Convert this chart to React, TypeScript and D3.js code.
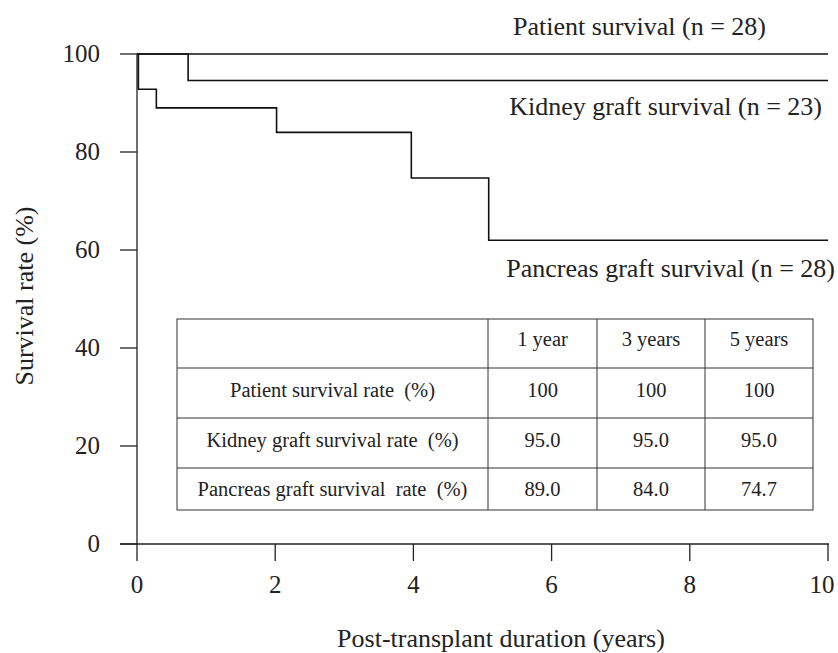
import React from "react";
import * as d3 from "d3";

const xTicks = [0, 2, 4, 6, 8, 10];
const yTicks = [0, 20, 40, 60, 80, 100];

const patientTimes = [0, 10];
const patientValues = [100, 100];
const kidneyTimes = [0, 0.74, 10];
const kidneyValues = [100, 94.6, 94.6];
const pancreasTimes = [0, 0.02, 0.28, 2.02, 3.97, 5.09, 10];
const pancreasValues = [100, 92.8, 89.0, 84.0, 74.7, 62.0, 62.0];

const seriesLabels = [
  "Patient survival (n = 28)",
  "Kidney graft survival (n = 23)",
  "Pancreas graft survival (n = 28)",
];

const tableHeader = ["", "1 year", "3 years", "5 years"];
const tableRowLabels = [
  "Patient survival rate  (%)",
  "Kidney graft survival rate  (%)",
  "Pancreas graft survival  rate  (%)",
];
const tableValues = [
  ["100", "100", "100"],
  ["95.0", "95.0", "95.0"],
  ["89.0", "84.0", "74.7"],
];

const W = 838;
const H = 653;
const FONT = '"Liberation Serif", "Times New Roman", Times, serif';

const ts = (size: number): React.CSSProperties => ({
  fontFamily: FONT,
  fontSize: size + "px",
  whiteSpace: "pre",
});

export default function App() {
  const x = d3.scaleLinear().domain([0, 10]).range([137, 828]);
  const y = d3.scaleLinear().domain([0, 100]).range([544, 54]);
  const line = d3
    .line<[number, number]>()
    .x((d) => x(d[0]))
    .y((d) => y(d[1]))
    .curve(d3.curveStepAfter);

  const series = [
    { t: patientTimes, v: patientValues },
    { t: kidneyTimes, v: kidneyValues },
    { t: pancreasTimes, v: pancreasValues },
  ];

  const colX = [177, 488, 597, 705, 813];
  const rowY = [319, 368, 418, 468, 510];
  const rowBase = [346, 397, 447, 496];

  const labelPos = [
    { x: 766, y: 35 },
    { x: 822, y: 115 },
    { x: 835, y: 277 },
  ];

  return (
    <svg
      width={W}
      height={H}
      style={{ position: "absolute", left: 0, top: 0, background: "#fff" }}
    >
      <line x1={137} x2={137} y1={54} y2={544} stroke="#222" strokeWidth={1.3} />
      <line x1={120} x2={829} y1={544} y2={544} stroke="#222" strokeWidth={1.3} />
      {yTicks.map((t) => (
        <g key={"y" + t}>
          <line x1={120} x2={137} y1={y(t)} y2={y(t)} stroke="#222" strokeWidth={1.3} />
          <text x={100} y={y(t) + 8} textAnchor="end" style={ts(25)} fill="#222">
            {t}
          </text>
        </g>
      ))}
      {xTicks.map((t) => (
        <g key={"x" + t}>
          <line x1={x(t)} x2={x(t)} y1={544} y2={561} stroke="#222" strokeWidth={1.3} />
          <text
            x={Math.min(x(t), 822)}
            y={593}
            textAnchor="middle"
            style={ts(25)}
            fill="#222"
          >
            {t}
          </text>
        </g>
      ))}
      <text
        transform="translate(33,296) rotate(-90)"
        textAnchor="middle"
        style={ts(26)}
        fill="#222"
      >
        Survival rate (%)
      </text>
      <text x={501} y={647} textAnchor="middle" style={ts(26)} fill="#222">
        Post-transplant duration (years)
      </text>

      {series.map((s, i) => (
        <path
          key={i}
          d={line(s.t.map((tt, j) => [tt, s.v[j]] as [number, number])) || ""}
          fill="none"
          stroke="#111"
          strokeWidth={1.6}
        />
      ))}
      {seriesLabels.map((l, i) => (
        <text
          key={l}
          x={labelPos[i].x}
          y={labelPos[i].y}
          textAnchor="end"
          style={ts(26)}
          fill="#222"
        >
          {l}
        </text>
      ))}

      <rect
        x={colX[0]}
        y={rowY[0]}
        width={colX[4] - colX[0]}
        height={rowY[4] - rowY[0]}
        fill="#fff"
        stroke="#333"
        strokeWidth={1}
      />
      {rowY.slice(1, 4).map((ry) => (
        <line key={"r" + ry} x1={colX[0]} x2={colX[4]} y1={ry} y2={ry} stroke="#333" strokeWidth={1} />
      ))}
      {colX.slice(1, 4).map((cx) => (
        <line key={"c" + cx} x1={cx} x2={cx} y1={rowY[0]} y2={rowY[4]} stroke="#333" strokeWidth={1} />
      ))}
      {tableHeader.map((h, c) => (
        <text
          key={"h" + c}
          x={(colX[c] + colX[c + 1]) / 2}
          y={rowBase[0]}
          textAnchor="middle"
          style={ts(20.5)}
          fill="#222"
        >
          {h}
        </text>
      ))}
      {tableRowLabels.map((l, r) => (
        <g key={"row" + r}>
          <text
            x={(colX[0] + colX[1]) / 2}
            y={rowBase[r + 1]}
            textAnchor="middle"
            style={ts(20.5)}
            fill="#222"
          >
            {l}
          </text>
          {tableValues[r].map((v, c) => (
            <text
              key={c}
              x={(colX[c + 1] + colX[c + 2]) / 2}
              y={rowBase[r + 1]}
              textAnchor="middle"
              style={ts(20.5)}
              fill="#222"
            >
              {v}
            </text>
          ))}
        </g>
      ))}
    </svg>
  );
}
